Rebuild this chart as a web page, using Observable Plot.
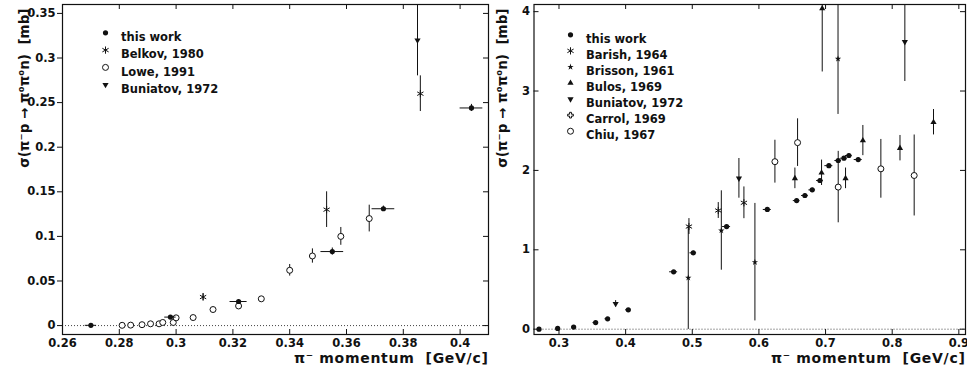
<!DOCTYPE html>
<html>
<head>
<meta charset="utf-8">
<script src="https://cdn.jsdelivr.net/npm/d3@7"></script>
<script src="https://cdn.jsdelivr.net/npm/@observablehq/plot@0.6"></script>
<style>
  body { margin: 0; background: #fff; }
  #charts { display: flex; width: 967px; height: 375px; overflow: hidden; }
</style>
</head>
<body>
<div id="charts"></div>
<script>
// ---- Axis ticks ----
const leftXTicks  = [0.26, 0.28, 0.30, 0.32, 0.34, 0.36, 0.38, 0.40];
const leftYTicks  = [0, 0.05, 0.10, 0.15, 0.20, 0.25, 0.30, 0.35];
const rightXTicks = [0.3, 0.4, 0.5, 0.6, 0.7, 0.8, 0.9];
const rightYTicks = [0, 1, 2, 3, 4];

const xTitle = "π⁻ momentum  [GeV/c]";
const yTitle = "σ(π⁻p → π⁰π⁰n)  [mb]";

// ---- This work (momentum, cross section, half-widths) ----
const workP   = [0.270, 0.298, 0.322, 0.355, 0.373, 0.404, 0.472, 0.5015, 0.5515, 0.6126, 0.6566, 0.669, 0.680, 0.6916, 0.705, 0.719, 0.7276, 0.735, 0.749];
const workSig = [0.0003, 0.0095, 0.027, 0.083, 0.131, 0.244, 0.723, 0.962, 1.293, 1.508, 1.620, 1.684, 1.755, 1.873, 2.060, 2.125, 2.154, 2.188, 2.137];
const workDp  = [0.002, 0.002, 0.003, 0.004, 0.004, 0.004, 0.006, 0.005, 0.006, 0.006, 0.005, 0.005, 0.005, 0.005, 0.006, 0.005, 0.005, 0.005, 0.006];
const workDs  = [0.0005, 0.001, 0.002, 0.004, 0.003, 0.004, 0.015, 0.02, 0.02, 0.02, 0.02, 0.02, 0.02, 0.02, 0.02, 0.02, 0.02, 0.02, 0.02];

// ---- Belkov, 1980 ----
const belkovP   = [0.3095, 0.353, 0.386];
const belkovSig = [0.032, 0.130, 0.260];
const belkovErr = [0.004, 0.020, 0.020];

// ---- Lowe, 1991 ----
const loweP   = [0.281, 0.284, 0.288, 0.291, 0.294, 0.2953, 0.299, 0.300, 0.306, 0.313, 0.322, 0.330, 0.340, 0.348, 0.358, 0.368];
const loweSig = [0.0003, 0.0005, 0.001, 0.002, 0.002, 0.0035, 0.0035, 0.0087, 0.009, 0.018, 0.022, 0.030, 0.062, 0.078, 0.100, 0.120];
const loweErr = [0, 0, 0, 0, 0, 0, 0, 0, 0, 0, 0, 0, 0.0065, 0.008, 0.010, 0.015];

// ---- Buniatov, 1972 ----
const buniP   = [0.385, 0.570, 0.819];
const buniSig = [0.320, 1.90, 3.62];
const buniErr = [0.040, 0.25, 0.50];

// ---- Barish, 1964 ----
const barishP   = [0.495, 0.539, 0.5775];
const barishSig = [1.293, 1.495, 1.592];
const barishErr = [0.10, 0.10, 0.20];

// ---- Brisson, 1961 ----
const brissonP   = [0.494, 0.5436, 0.594, 0.7187];
const brissonSig = [0.647, 1.243, 0.844, 3.405];
const brissonErr = [0.65, 0.50, 0.74, 0.70];

// ---- Bulos, 1969 ----
const bulosP   = [0.654, 0.694, 0.695, 0.730, 0.756, 0.8117, 0.862];
const bulosSig = [1.90, 1.97, 4.04, 1.90, 2.376, 2.28, 2.607];
const bulosErr = [0.13, 0.16, 0.80, 0.13, 0.19, 0.16, 0.16];

// ---- Carrol, 1969 ----
const carrolP   = [];
const carrolSig = [];
const carrolErr = [];

// ---- Chiu, 1967 ----
const chiuP   = [0.624, 0.658, 0.719, 0.783, 0.833];
const chiuSig = [2.11, 2.35, 1.79, 2.02, 1.936];
const chiuErr = [0.27, 0.30, 0.45, 0.37, 0.51];

const rows = (p, s, e, dp) => p.map((x, i) => ({
  x, y: s[i], lo: s[i] - e[i], hi: s[i] + e[i],
  x1: dp ? x - dp[i] : x, x2: dp ? x + dp[i] : x
}));

const FONT = "DejaVu Sans";
const INK = "#111";

// open cross drawn as an outlined plus
const openCross = {
  draw(context, size) {
    const r = Math.sqrt(size) / 2, a = r / 3;
    context.moveTo(-a, -r); context.lineTo(a, -r); context.lineTo(a, -a); context.lineTo(r, -a);
    context.lineTo(r, a); context.lineTo(a, a); context.lineTo(a, r); context.lineTo(-a, r);
    context.lineTo(-a, a); context.lineTo(-r, a); context.lineTo(-r, -a); context.lineTo(-a, -a);
    context.closePath();
  }
};

// marker styles
const sty = {
  work:    {label: "this work",      symbol: "circle",   r: 2.6, fill: INK, stroke: "none"},
  belkov:  {label: "Belkov, 1980",   symbol: "asterisk", r: 3.4, fill: "none", stroke: INK},
  lowe:    {label: "Lowe, 1991",     symbol: "circle",   r: 3.0, fill: "white", stroke: INK},
  buni:    {label: "Buniatov, 1972", symbol: "triangle", r: 2.3, fill: INK, stroke: "none", rotate: 180},
  barish:  {label: "Barish, 1964",   symbol: "asterisk", r: 3.4, fill: "none", stroke: INK},
  brisson: {label: "Brisson, 1961",  symbol: "star",     r: 2.0, fill: INK, stroke: "none"},
  bulos:   {label: "Bulos, 1969",    symbol: "triangle", r: 2.3, fill: INK, stroke: "none"},
  carrol:  {label: "Carrol, 1969",   symbol: openCross,  r: 3.2, fill: "white", stroke: INK},
  chiu:    {label: "Chiu, 1967",     symbol: "circle",   r: 3.0, fill: "white", stroke: INK}
};

function seriesMarks(data, s, hbars) {
  const out = [
    Plot.ruleX(data.filter(d => d.hi > d.lo), {x: "x", y1: "lo", y2: "hi", stroke: INK, strokeWidth: 1, clip: true})
  ];
  if (hbars) out.push(Plot.ruleY(data, {y: "y", x1: "x1", x2: "x2", stroke: INK, strokeWidth: 1, clip: true}));
  out.push(Plot.dot(data, {x: "x", y: "y", symbol: s.symbol, r: s.r, fill: s.fill, stroke: s.stroke,
    strokeWidth: 1, rotate: s.rotate ?? 0, clip: true}));
  return out;
}

function legendMarks(items, lx, ly, step) {
  return items.flatMap((s, i) => [
    Plot.dot([s], {x: null, y: null, frameAnchor: "top-left", dx: lx, dy: ly + i * step,
      symbol: s.symbol, r: s.r, fill: s.fill, stroke: s.stroke, strokeWidth: 1, rotate: s.rotate ?? 0}),
    Plot.text([s.label], {frameAnchor: "top-left", dx: lx + 15.5, dy: ly + i * step,
      textAnchor: "start", fontSize: 11.5, fill: INK})
  ]);
}

function panel(o) {
  const plotW = o.width - o.marginLeft - o.marginRight;
  const plotH = 375 - o.marginTop - o.marginBottom;
  const inX = d => d.x >= o.xDomain[0] && d.x <= o.xDomain[1];
  const marks = [
    Plot.ruleY([0], {stroke: "#444", strokeWidth: 1, strokeDasharray: "1,2"}),
    // ticks drawn inside the frame on bottom, top and right
    Plot.tickX(o.xTicks, {x: d => d, insetTop: plotH - 5, stroke: INK}),
    Plot.tickX(o.xTicks, {x: d => d, insetBottom: plotH - 5, stroke: INK}),
    Plot.tickY(o.yTicks, {y: d => d, insetLeft: plotW - 5, stroke: INK}),
    Plot.axisX(o.xTicks, {tickSize: 0, tickPadding: 4, fontSize: 11.5, tickFormat: d => String(+d.toFixed(2)), label: null}),
    o.leftTicksOut
      ? Plot.axisY(o.yTicks, {tickSize: 5, tickPadding: 2, fontSize: 11.5, tickFormat: d => String(+d.toFixed(2)), label: null, stroke: INK})
      : Plot.axisY(o.yTicks, {tickSize: 0, tickPadding: 4, fontSize: 11.5, tickFormat: d => String(+d.toFixed(2)), label: null}),
    o.leftTicksOut ? null : Plot.tickY(o.yTicks, {y: d => d, insetRight: plotW - 5, stroke: INK}),
    ...o.series.flatMap(([data, s, hb]) => seriesMarks(data.filter(inX), s, hb)),
    ...legendMarks(o.legend, o.legendX, o.legendY, o.legendStep),
    Plot.text([xTitle], {frameAnchor: "bottom-right", textAnchor: "end", dy: 28, fontSize: 14, fill: INK,
      style: {letterSpacing: "0.7px"}}),
    Plot.text([yTitle], {frameAnchor: "top-left", rotate: -90, textAnchor: "end", dx: o.yTitleDx, dy: 4, fontSize: 13.5, fill: INK}),
    Plot.frame({stroke: INK, strokeWidth: 1.2})
  ].filter(Boolean);
  const svg = Plot.plot({
    width: o.width, height: 375,
    marginLeft: o.marginLeft, marginRight: o.marginRight, marginTop: o.marginTop, marginBottom: o.marginBottom,
    style: {fontFamily: FONT, fontWeight: "bold", background: "white", color: INK, overflow: "visible"},
    x: {domain: o.xDomain, label: null},
    y: {domain: o.yDomain, label: null},
    marks
  });
  // the momentum title is slightly letter-spaced
  svg.querySelectorAll("text").forEach(t => { if (t.textContent === xTitle) t.style.letterSpacing = "0.7px"; });
  return svg;
}

const work    = rows(workP, workSig, workDs, workDp);
const belkov  = rows(belkovP, belkovSig, belkovErr);
const lowe    = rows(loweP, loweSig, loweErr);
const buni    = rows(buniP, buniSig, buniErr);
const barish  = rows(barishP, barishSig, barishErr);
const brisson = rows(brissonP, brissonSig, brissonErr);
const bulos   = rows(bulosP, bulosSig, bulosErr);
const carrol  = rows(carrolP, carrolSig, carrolErr);
const chiu    = rows(chiuP, chiuSig, chiuErr);

const left = panel({
  width: 490, marginLeft: 62, marginRight: 2, marginTop: 4, marginBottom: 41,
  xDomain: [0.26, 0.41], yDomain: [-0.01, 0.36],
  xTicks: leftXTicks, yTicks: leftYTicks, leftTicksOut: true,
  series: [[lowe, sty.lowe], [belkov, sty.belkov], [buni, sty.buni], [work, sty.work, true]],
  legend: [sty.work, sty.belkov, sty.lowe, sty.buni],
  legendX: 43, legendY: 28.3, legendStep: 17.3,
  yTitleDx: -43
});

const right = panel({
  width: 477, marginLeft: 43.5, marginRight: 2, marginTop: 4, marginBottom: 41,
  xDomain: [0.2625, 0.91], yDomain: [-0.067, 4.09],
  xTicks: rightXTicks, yTicks: rightYTicks, leftTicksOut: false,
  series: [[chiu, sty.chiu], [carrol, sty.carrol], [bulos, sty.bulos], [buni, sty.buni],
           [brisson, sty.brisson], [barish, sty.barish], [work, sty.work, true]],
  legend: [sty.work, sty.barish, sty.brisson, sty.bulos, sty.buni, sty.carrol, sty.chiu],
  legendX: 36.5, legendY: 30.3, legendStep: 16.07,
  yTitleDx: -36.5
});

const host = document.getElementById("charts");
host.append(left, right);
</script>
</body>
</html>
